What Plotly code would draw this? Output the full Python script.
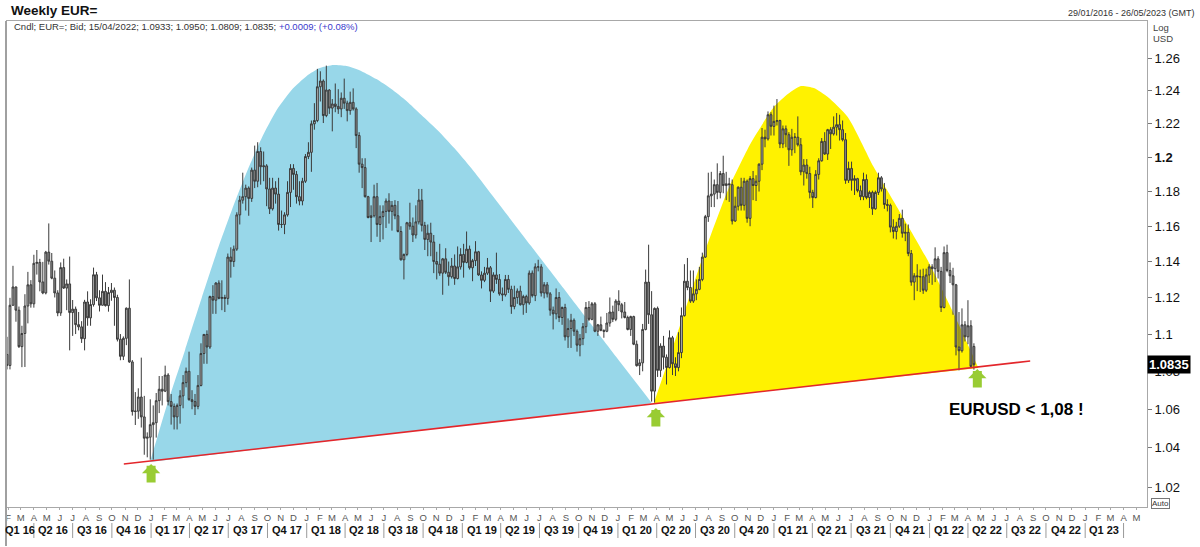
import math
import pandas as pd
import plotly.graph_objects as go

# ---------------- data ----------------
start_date = "2016-01-29"
range_end = "2023-05-26"

wk_open = [
    # 2016
    1.0890, 1.0831, 1.1157, 1.1258, 1.1130, 1.0932, 1.1003, 1.1153, 1.1270, 1.1165, 1.1390, 1.1395, 1.1286, 1.1225,
    1.1453, 1.1402, 1.1307, 1.1225, 1.1115, 1.1366, 1.1252, 1.1275, 1.1117, 1.1136, 1.1051, 1.1039, 1.0975, 1.1175,
    1.1088, 1.1161, 1.1326, 1.1198, 1.1157, 1.1234, 1.1155, 1.1227, 1.1240, 1.1200, 1.0972, 1.0880, 1.0977, 1.1141,
    1.0850, 1.0588, 1.0590, 1.0664, 1.0560, 1.0450, 1.0455,
    # 2017
    1.0520, 1.0530, 1.0645, 1.0705, 1.0695, 1.0780, 1.0640, 1.0615, 1.0560, 1.0620, 1.0670, 1.0740, 1.0800, 1.0650,
    1.0640, 1.0615, 1.0725, 1.0895, 1.0998, 1.0930, 1.1205, 1.1185, 1.1280, 1.1195, 1.1200, 1.1195, 1.1425, 1.1400,
    1.1470, 1.1665, 1.1750, 1.1770, 1.1820, 1.1760, 1.1925, 1.1860, 1.2035, 1.1945, 1.1950, 1.1815, 1.1700, 1.1820,
    1.1785, 1.1610, 1.1610, 1.1665, 1.1795, 1.1935, 1.1900, 1.1770, 1.1745, 1.1860,
    # 2018
    1.2005, 1.2030, 1.2200, 1.2220, 1.2425, 1.2460, 1.2250, 1.2405, 1.2295, 1.2320, 1.2305, 1.2290, 1.2355, 1.2325,
    1.2280, 1.2330, 1.2290, 1.2130, 1.1960, 1.1940, 1.1770, 1.1650, 1.1660, 1.1770, 1.1610, 1.1655, 1.1685, 1.1745,
    1.1685, 1.1720, 1.1660, 1.1570, 1.1410, 1.1440, 1.1620, 1.1600, 1.1550, 1.1625, 1.1750, 1.1605, 1.1525, 1.1560,
    1.1510, 1.1400, 1.1385, 1.1335, 1.1415, 1.1340, 1.1315, 1.1375, 1.1305, 1.1370,
    # 2019
    1.1440, 1.1395, 1.1470, 1.1365, 1.1405, 1.1455, 1.1325, 1.1295, 1.1335, 1.1365, 1.1235, 1.1325, 1.1300, 1.1220,
    1.1215, 1.1300, 1.1245, 1.1150, 1.1200, 1.1235, 1.1160, 1.1205, 1.1170, 1.1335, 1.1210, 1.1370, 1.1370, 1.1225,
    1.1270, 1.1220, 1.1130, 1.1110, 1.1200, 1.1090, 1.1145, 1.0985, 1.1030, 1.1075, 1.1015, 1.0940, 1.0975, 1.1040,
    1.1145, 1.1080, 1.1165, 1.1015, 1.1050, 1.1020, 1.1015, 1.1060, 1.1120, 1.1080,
    # 2020
    1.1180, 1.1160, 1.1120, 1.1090, 1.1025, 1.1095, 1.0945, 1.0830, 1.0845, 1.1025, 1.1285, 1.1105, 1.0695, 1.1140,
    1.0805, 1.0935, 1.0875, 1.0820, 1.0980, 1.0840, 1.0820, 1.0900, 1.1100, 1.1290, 1.1255, 1.1180, 1.1220, 1.1245,
    1.1300, 1.1425, 1.1655, 1.1775, 1.1785, 1.1840, 1.1795, 1.1905, 1.1835, 1.1845, 1.1840, 1.1630, 1.1715, 1.1825,
    1.1720, 1.1860, 1.1645, 1.1875, 1.1835, 1.1860, 1.1960, 1.2120, 1.2110, 1.2255,
    # 2021
    1.2185, 1.2215, 1.2220, 1.2080, 1.2170, 1.2135, 1.2045, 1.2120, 1.2120, 1.2075, 1.1915, 1.1955, 1.1905, 1.1795,
    1.1765, 1.1900, 1.1980, 1.2095, 1.2020, 1.2165, 1.2140, 1.2180, 1.2195, 1.2165, 1.2105, 1.1865, 1.1935, 1.1865,
    1.1875, 1.1805, 1.1770, 1.1870, 1.1765, 1.1795, 1.1700, 1.1795, 1.1880, 1.1815, 1.1725, 1.1720, 1.1595, 1.1570,
    1.1600, 1.1645, 1.1560, 1.1565, 1.1445, 1.1285, 1.1320, 1.1315, 1.1315, 1.1240, 1.1325,
    # 2022
    1.1370, 1.1360, 1.1415, 1.1345, 1.1145, 1.1450, 1.1350, 1.1320, 1.1270, 1.0930, 1.0910, 1.1050, 1.0985, 1.1045,
    1.0933,
]

wk_high = [
    # 2016
    1.0985, 1.1198, 1.1376, 1.1260, 1.1150, 1.1045, 1.1218, 1.1342, 1.1296, 1.1438, 1.1465, 1.1415, 1.1398, 1.1460,
    1.1616, 1.1448, 1.1350, 1.1240, 1.1395, 1.1416, 1.1300, 1.1428, 1.1186, 1.1150, 1.1120, 1.1070, 1.1187, 1.1234,
    1.1190, 1.1366, 1.1342, 1.1240, 1.1327, 1.1285, 1.1258, 1.1280, 1.1255, 1.1215, 1.1000, 1.0987, 1.1145, 1.1300,
    1.0860, 1.0690, 1.0710, 1.0873, 1.0670, 1.0480, 1.0652,
    # 2017
    1.0620, 1.0685, 1.0775, 1.0775, 1.0830, 1.0790, 1.0680, 1.0630, 1.0630, 1.0700, 1.0780, 1.0820, 1.0905, 1.0700,
    1.0680, 1.0780, 1.0950, 1.1000, 1.1020, 1.1210, 1.1268, 1.1285, 1.1295, 1.1295, 1.1215, 1.1445, 1.1480, 1.1490,
    1.1680, 1.1775, 1.1910, 1.1840, 1.1830, 1.1940, 1.2070, 1.2090, 1.2060, 1.2035, 1.1960, 1.1880, 1.1880, 1.1860,
    1.1880, 1.1690, 1.1680, 1.1860, 1.1960, 1.1960, 1.1920, 1.1860, 1.1880, 1.2020,
    # 2018
    1.2090, 1.2220, 1.2325, 1.2535, 1.2520, 1.2470, 1.2555, 1.2410, 1.2350, 1.2445, 1.2410, 1.2390, 1.2475, 1.2340,
    1.2395, 1.2415, 1.2300, 1.2150, 1.1995, 1.1995, 1.1775, 1.1720, 1.1840, 1.1850, 1.1720, 1.1720, 1.1760, 1.1790,
    1.1745, 1.1750, 1.1745, 1.1600, 1.1445, 1.1625, 1.1735, 1.1650, 1.1720, 1.1815, 1.1815, 1.1625, 1.1610, 1.1620,
    1.1550, 1.1455, 1.1500, 1.1420, 1.1475, 1.1400, 1.1420, 1.1440, 1.1485, 1.1475,
    # 2019
    1.1500, 1.1570, 1.1490, 1.1415, 1.1515, 1.1460, 1.1345, 1.1370, 1.1420, 1.1375, 1.1340, 1.1450, 1.1330, 1.1255,
    1.1325, 1.1325, 1.1265, 1.1265, 1.1250, 1.1265, 1.1215, 1.1215, 1.1350, 1.1350, 1.1390, 1.1410, 1.1385, 1.1285,
    1.1285, 1.1230, 1.1150, 1.1250, 1.1230, 1.1150, 1.1165, 1.1085, 1.1110, 1.1085, 1.1025, 1.1000, 1.1060, 1.1175,
    1.1180, 1.1175, 1.1175, 1.1055, 1.1095, 1.1025, 1.1115, 1.1200, 1.1155, 1.1190,
    # 2020
    1.1240, 1.1170, 1.1175, 1.1100, 1.1100, 1.1100, 1.0965, 1.0865, 1.1055, 1.1355, 1.1495, 1.1235, 1.1145, 1.1150,
    1.0950, 1.0990, 1.0890, 1.1020, 1.0990, 1.0875, 1.1010, 1.1145, 1.1385, 1.1420, 1.1350, 1.1350, 1.1300, 1.1370,
    1.1450, 1.1665, 1.1910, 1.1915, 1.1870, 1.1965, 1.1920, 1.2010, 1.1915, 1.1880, 1.1870, 1.1770, 1.1830, 1.1880,
    1.1880, 1.1870, 1.1890, 1.1920, 1.1895, 1.1965, 1.2175, 1.2165, 1.2275, 1.2270,
    # 2021
    1.2310, 1.2350, 1.2225, 1.2190, 1.2190, 1.2150, 1.2170, 1.2145, 1.2245, 1.2115, 1.1990, 1.1990, 1.1945, 1.1810,
    1.1925, 1.1995, 1.2115, 1.2150, 1.2170, 1.2180, 1.2245, 1.2265, 1.2255, 1.2220, 1.2145, 1.1975, 1.1975, 1.1895,
    1.1880, 1.1835, 1.1910, 1.1900, 1.1805, 1.1805, 1.1805, 1.1910, 1.1890, 1.1850, 1.1755, 1.1730, 1.1640, 1.1625,
    1.1670, 1.1695, 1.1615, 1.1610, 1.1465, 1.1335, 1.1385, 1.1355, 1.1360, 1.1360, 1.1385,
    # 2022
    1.1385, 1.1480, 1.1430, 1.1370, 1.1485, 1.1495, 1.1395, 1.1365, 1.1275, 1.1120, 1.1140, 1.1070, 1.1185, 1.1075,
    1.0950,
]

wk_low = [
    # 2016
    1.0810, 1.0810, 1.1155, 1.1067, 1.0925, 1.0822, 1.0823, 1.1058, 1.1144, 1.1144, 1.1327, 1.1234, 1.1218, 1.1217,
    1.1383, 1.1301, 1.1200, 1.1097, 1.1099, 1.1247, 1.1130, 1.0912, 1.0990, 1.1000, 1.1020, 1.0952, 1.0912, 1.1045,
    1.1045, 1.1150, 1.1180, 1.1123, 1.1156, 1.1150, 1.1122, 1.1182, 1.1045, 1.0960, 1.0859, 1.0860, 1.0940, 1.0845,
    1.0567, 1.0518, 1.0550, 1.0505, 1.0365, 1.0352, 1.0340,
    # 2017
    1.0340, 1.0453, 1.0580, 1.0620, 1.0690, 1.0620, 1.0520, 1.0495, 1.0495, 1.0525, 1.0605, 1.0715, 1.0645, 1.0600,
    1.0570, 1.0600, 1.0720, 1.0840, 1.0840, 1.0920, 1.1110, 1.1110, 1.1190, 1.1130, 1.1120, 1.1160, 1.1310, 1.1370,
    1.1460, 1.1610, 1.1730, 1.1690, 1.1660, 1.1740, 1.1820, 1.1825, 1.1840, 1.1860, 1.1715, 1.1670, 1.1690, 1.1730,
    1.1575, 1.1590, 1.1555, 1.1655, 1.1710, 1.1810, 1.1730, 1.1720, 1.1720, 1.1850,
    # 2018
    1.1990, 1.1915, 1.2165, 1.2210, 1.2335, 1.2205, 1.2240, 1.2260, 1.2155, 1.2270, 1.2260, 1.2240, 1.2290, 1.2215,
    1.2255, 1.2280, 1.2055, 1.1910, 1.1820, 1.1765, 1.1645, 1.1510, 1.1650, 1.1540, 1.1510, 1.1525, 1.1590, 1.1615,
    1.1575, 1.1640, 1.1565, 1.1405, 1.1300, 1.1430, 1.1580, 1.1510, 1.1530, 1.1610, 1.1570, 1.1465, 1.1430, 1.1430,
    1.1335, 1.1300, 1.1320, 1.1215, 1.1330, 1.1265, 1.1305, 1.1270, 1.1300, 1.1355,
    # 2019
    1.1310, 1.1390, 1.1355, 1.1290, 1.1375, 1.1320, 1.1250, 1.1285, 1.1325, 1.1175, 1.1225, 1.1275, 1.1210, 1.1180,
    1.1205, 1.1225, 1.1110, 1.1135, 1.1165, 1.1155, 1.1105, 1.1115, 1.1160, 1.1200, 1.1180, 1.1345, 1.1205, 1.1195,
    1.1200, 1.1100, 1.1025, 1.1080, 1.1065, 1.1050, 1.0965, 1.0925, 1.0925, 1.0990, 1.0905, 1.0880, 1.0940, 1.1005,
    1.1070, 1.1075, 1.1010, 1.0990, 1.1015, 1.0980, 1.1010, 1.1040, 1.1065, 1.1070,
    # 2020
    1.1125, 1.1085, 1.1085, 1.1020, 1.0990, 1.0940, 1.0825, 1.0780, 1.0800, 1.1020, 1.1055, 1.0640, 1.0635, 1.0770,
    1.0770, 1.0810, 1.0730, 1.0815, 1.0780, 1.0775, 1.0800, 1.0870, 1.1095, 1.1240, 1.1170, 1.1170, 1.1185, 1.1240,
    1.1290, 1.1420, 1.1625, 1.1710, 1.1710, 1.1755, 1.1760, 1.1790, 1.1750, 1.1740, 1.1610, 1.1625, 1.1690, 1.1690,
    1.1690, 1.1620, 1.1600, 1.1750, 1.1745, 1.1800, 1.1925, 1.2060, 1.2100, 1.2130,
    # 2021
    1.2130, 1.2190, 1.2055, 1.2055, 1.2060, 1.1950, 1.2010, 1.2025, 1.2065, 1.1895, 1.1835, 1.1875, 1.1760, 1.1705,
    1.1760, 1.1870, 1.1975, 1.2015, 1.1985, 1.2050, 1.2130, 1.2130, 1.2100, 1.2095, 1.1845, 1.1850, 1.1805, 1.1780,
    1.1795, 1.1750, 1.1750, 1.1755, 1.1705, 1.1665, 1.1695, 1.1780, 1.1800, 1.1700, 1.1685, 1.1565, 1.1530, 1.1525,
    1.1590, 1.1535, 1.1515, 1.1430, 1.1265, 1.1185, 1.1235, 1.1230, 1.1220, 1.1230, 1.1280,
    # 2022
    1.1270, 1.1285, 1.1305, 1.1120, 1.1140, 1.1340, 1.1280, 1.1105, 1.0885, 1.0805, 1.0900, 1.0960, 1.0945, 1.0820,
    1.0809,
]

wk_close = [
    # 2016
    1.0831, 1.1157, 1.1258, 1.1130, 1.0932, 1.1003, 1.1153, 1.1270, 1.1165, 1.1390, 1.1395, 1.1286, 1.1225, 1.1453,
    1.1402, 1.1307, 1.1225, 1.1115, 1.1366, 1.1252, 1.1275, 1.1117, 1.1136, 1.1051, 1.1039, 1.0975, 1.1175, 1.1088,
    1.1161, 1.1326, 1.1198, 1.1157, 1.1234, 1.1155, 1.1227, 1.1240, 1.1200, 1.0972, 1.0880, 1.0977, 1.1141, 1.0850,
    1.0588, 1.0590, 1.0664, 1.0560, 1.0450, 1.0455, 1.0520,
    # 2017
    1.0530, 1.0645, 1.0705, 1.0695, 1.0780, 1.0640, 1.0615, 1.0560, 1.0620, 1.0670, 1.0740, 1.0800, 1.0650, 1.0640,
    1.0615, 1.0725, 1.0895, 1.0998, 1.0930, 1.1205, 1.1185, 1.1280, 1.1195, 1.1200, 1.1195, 1.1425, 1.1400, 1.1470,
    1.1665, 1.1750, 1.1770, 1.1820, 1.1760, 1.1925, 1.1860, 1.2035, 1.1945, 1.1950, 1.1815, 1.1700, 1.1820, 1.1785,
    1.1610, 1.1610, 1.1665, 1.1795, 1.1935, 1.1900, 1.1770, 1.1745, 1.1860, 1.2005,
    # 2018
    1.2030, 1.2200, 1.2220, 1.2425, 1.2460, 1.2250, 1.2405, 1.2295, 1.2320, 1.2305, 1.2290, 1.2355, 1.2325, 1.2280,
    1.2330, 1.2290, 1.2130, 1.1960, 1.1940, 1.1770, 1.1650, 1.1660, 1.1770, 1.1610, 1.1655, 1.1685, 1.1745, 1.1685,
    1.1720, 1.1660, 1.1570, 1.1410, 1.1440, 1.1620, 1.1600, 1.1550, 1.1625, 1.1750, 1.1605, 1.1525, 1.1560, 1.1510,
    1.1400, 1.1385, 1.1335, 1.1415, 1.1340, 1.1315, 1.1375, 1.1305, 1.1370, 1.1440,
    # 2019
    1.1395, 1.1470, 1.1365, 1.1405, 1.1455, 1.1325, 1.1295, 1.1335, 1.1365, 1.1235, 1.1325, 1.1300, 1.1220, 1.1215,
    1.1300, 1.1245, 1.1150, 1.1200, 1.1235, 1.1160, 1.1205, 1.1170, 1.1335, 1.1210, 1.1370, 1.1370, 1.1225, 1.1270,
    1.1220, 1.1130, 1.1110, 1.1200, 1.1090, 1.1145, 1.0985, 1.1030, 1.1075, 1.1015, 1.0940, 1.0975, 1.1040, 1.1145,
    1.1080, 1.1165, 1.1015, 1.1050, 1.1020, 1.1015, 1.1060, 1.1120, 1.1080, 1.1180,
    # 2020
    1.1160, 1.1120, 1.1090, 1.1025, 1.1095, 1.0945, 1.0830, 1.0845, 1.1025, 1.1285, 1.1105, 1.0695, 1.1140, 1.0805,
    1.0935, 1.0875, 1.0820, 1.0980, 1.0840, 1.0820, 1.0900, 1.1100, 1.1290, 1.1255, 1.1180, 1.1220, 1.1245, 1.1300,
    1.1425, 1.1655, 1.1775, 1.1785, 1.1840, 1.1795, 1.1905, 1.1835, 1.1845, 1.1840, 1.1630, 1.1715, 1.1825, 1.1720,
    1.1860, 1.1645, 1.1875, 1.1835, 1.1860, 1.1960, 1.2120, 1.2110, 1.2255, 1.2185,
    # 2021
    1.2215, 1.2220, 1.2080, 1.2170, 1.2135, 1.2045, 1.2120, 1.2120, 1.2075, 1.1915, 1.1955, 1.1905, 1.1795, 1.1765,
    1.1900, 1.1980, 1.2095, 1.2020, 1.2165, 1.2140, 1.2180, 1.2195, 1.2165, 1.2105, 1.1865, 1.1935, 1.1865, 1.1875,
    1.1805, 1.1770, 1.1870, 1.1765, 1.1795, 1.1700, 1.1795, 1.1880, 1.1815, 1.1725, 1.1720, 1.1595, 1.1570, 1.1600,
    1.1645, 1.1560, 1.1565, 1.1445, 1.1285, 1.1320, 1.1315, 1.1315, 1.1240, 1.1325, 1.1370,
    # 2022
    1.1360, 1.1415, 1.1345, 1.1145, 1.1450, 1.1350, 1.1320, 1.1270, 1.0930, 1.0910, 1.1050, 1.0985, 1.1045, 1.0826,
    1.0835,
]

assert len(wk_open) == len(wk_high) == len(wk_low) == len(wk_close)

# right axis ticks
tick_vals = [1.02, 1.04, 1.06, 1.08, 1.10, 1.12, 1.14, 1.16, 1.18, 1.20, 1.22, 1.24, 1.26]
tick_text = ["1.02", "1.04", "1.06", "1.08", "1.1", "1.12", "1.14", "1.16", "1.18", "<b>1.2</b>", "1.22", "1.24", "1.26"]
y_bottom, y_top = 1.01017, 1.2834

month_initials = ["J", "F", "M", "A", "M", "J", "J", "A", "S", "O", "N", "D"]
quarter_labels = ["Q1 16", "Q2 16", "Q3 16", "Q4 16", "Q1 17", "Q2 17", "Q3 17", "Q4 17",
                  "Q1 18", "Q2 18", "Q3 18", "Q4 18", "Q1 19", "Q2 19", "Q3 19", "Q4 19",
                  "Q1 20", "Q2 20", "Q3 20", "Q4 20", "Q1 21", "Q2 21", "Q3 21", "Q4 21",
                  "Q1 22", "Q2 22", "Q3 22", "Q4 22", "Q1 23"]

# hand-drawn overlays (decimal years, prices)
blue_years = [2016.993, 2017.102, 2017.218, 2017.327, 2017.423, 2017.519, 2017.615, 2017.711, 2017.807,
              2017.903, 2018.000, 2018.083, 2018.160, 2018.256, 2018.352, 2018.448, 2018.544, 2018.641,
              2018.737, 2018.846, 2018.948, 2019.057, 2019.250, 2019.442, 2019.634, 2019.827, 2020.019,
              2020.218]
blue_prices = [1.0328, 1.0622, 1.0913, 1.1202, 1.1456, 1.1693, 1.1914, 1.2115, 1.2283,
               1.2405, 1.2491, 1.2540, 1.2558, 1.2552, 1.2521, 1.2472, 1.2411, 1.2338,
               1.2253, 1.2157, 1.2055, 1.1937, 1.1710, 1.1487, 1.1269, 1.1054, 1.0844,
               1.0632]
yellow_years = [2020.230, 2020.320, 2020.403, 2020.551, 2020.705, 2020.852, 2021.000, 2021.089, 2021.173,
                2021.256, 2021.346, 2021.474, 2021.641, 2021.814, 2021.987, 2022.153, 2022.314]
yellow_prices = [1.0632, 1.0849, 1.1060, 1.1442, 1.1808, 1.2085, 1.2301, 1.2380, 1.2429,
                 1.2417, 1.2362, 1.2241, 1.1943, 1.1675, 1.1408, 1.1115, 1.0818]
trend_dates = ["2016-10-29", "2022-08-25"]
trend_prices = [1.0318, 1.0855]
arrow_dates = ["2017-01-01", "2020-03-30", "2022-04-23"]
arrow_prices = [1.0318, 1.0606, 1.0812]
note_date = "2022-07-25"
note_price = 1.0601
last_price = 1.0835

title_text = "Weekly EUR="
period_text = "29/01/2016 - 26/05/2023 (GMT)"
info_text = "Cndl; EUR=; Bid; 15/04/2022; 1.0933; 1.0950; 1.0809; 1.0835; "
change_text = "+0.0009; (+0.08%)"
note_text = "EURUSD < 1,08 !"


def year_to_ts(v):
    yr = int(v)
    a = pd.Timestamp(yr, 1, 1)
    b = pd.Timestamp(yr + 1, 1, 1)
    return a + (v - yr) * (b - a)


weeks = pd.date_range(start_date, periods=len(wk_close), freq="7D")

# ---------------- figure ----------------
W, H = 1200, 547
ML, MR, MT, MB = 5, 53, 21, 40
PW, PH = W - ML - MR, H - MT - MB


def px(xp):
    return (xp - ML) / PW


def py(yp):
    return (H - MB - yp) / PH


FONT = "Arial, Liberation Sans, sans-serif"

fig = go.Figure()

# filled pattern shapes on the base subplot
fig.add_trace(go.Scatter(
    x=[year_to_ts(v) for v in blue_years], y=blue_prices, mode="lines", fill="toself",
    fillcolor="#98d7e9", line=dict(width=0, shape="spline", smoothing=0.6, color="#98d7e9"),
    hoverinfo="skip", showlegend=False, xaxis="x", yaxis="y"))
fig.add_trace(go.Scatter(
    x=[year_to_ts(v) for v in yellow_years], y=yellow_prices, mode="lines", fill="toself",
    fillcolor="#fff200", line=dict(width=0, shape="spline", smoothing=0.6, color="#fff200"),
    hoverinfo="skip", showlegend=False, xaxis="x", yaxis="y"))

# candles + trend line on an overlaid (identical) subplot so they sit above the fills
fig.add_trace(go.Candlestick(
    x=weeks, open=wk_open, high=wk_high, low=wk_low, close=wk_close,
    increasing=dict(line=dict(color="#3a3a3a", width=1), fillcolor="#b8b8b8"),
    decreasing=dict(line=dict(color="#3a3a3a", width=1), fillcolor="#8c8c8c"),
    whiskerwidth=0, showlegend=False, xaxis="x2", yaxis="y2"))

fig.add_trace(go.Scatter(
    x=trend_dates, y=trend_prices, mode="lines", line=dict(color="#e3262b", width=1.6),
    hoverinfo="skip", showlegend=False, xaxis="x2", yaxis="y2"))

month_starts = pd.date_range("2016-02-01", "2023-05-01", freq="MS")
month_text = [month_initials[m.month - 1] for m in month_starts]

yrange = [math.log10(y_bottom), math.log10(y_top)]

fig.update_layout(
    width=W, height=H, margin=dict(l=ML, r=MR, t=MT, b=MB),
    paper_bgcolor="white", plot_bgcolor="white", showlegend=False,
    font=dict(family=FONT, color="#111"), boxgap=0.12,
    xaxis=dict(
        type="date", range=[start_date, range_end], rangeslider=dict(visible=False),
        showgrid=False, zeroline=False, showline=True, mirror=True, linecolor="#a8a8a8", linewidth=1,
        tickmode="array", tickvals=month_starts, ticktext=month_text,
        ticks="outside", ticklen=2, tickcolor="#aaaaaa", tickfont=dict(size=9.5, color="#555555"),
    ),
    yaxis=dict(
        type="log", range=yrange, side="right",
        showgrid=False, zeroline=False, showline=True, mirror=True, linecolor="#a8a8a8", linewidth=1,
        tickmode="array", tickvals=tick_vals, ticktext=tick_text,
        ticks="outside", ticklen=4, tickcolor="#777777", tickfont=dict(size=13, color="#111111"),
    ),
    xaxis2=dict(type="date", range=[start_date, range_end], overlaying="x", visible=False,
                rangeslider=dict(visible=False), showgrid=False, zeroline=False),
    yaxis2=dict(type="log", range=yrange, overlaying="y", visible=False, showgrid=False, zeroline=False),
)

ann = []
shapes = []
q_starts = pd.date_range("2016-01-01", "2023-04-01", freq="QS")
rs = pd.Timestamp(start_date)
for i, lab in enumerate(quarter_labels):
    a = max(q_starts[i], rs)
    b = q_starts[i + 1]
    ann.append(dict(x=a + (b - a) / 2, y=py(530), xref="x", yref="paper", text=f"<b>{lab}</b>",
                    showarrow=False, font=dict(size=11, color="#111", family=FONT), yanchor="middle"))
    shapes.append(dict(type="line", xref="x", yref="paper", x0=b, x1=b, y0=py(523), y1=py(538),
                       line=dict(color="#9a9a9a", width=1)))

# header texts
ann.append(dict(x=px(7), y=py(11), xref="paper", yref="paper", text=f"<b>{title_text}</b>", showarrow=False,
                xanchor="left", yanchor="middle", font=dict(size=13.5, color="#111", family=FONT)))
ann.append(dict(x=px(1197), y=py(13), xref="paper", yref="paper", text=period_text, showarrow=False,
                xanchor="right", yanchor="middle", font=dict(size=9, color="#333", family=FONT)))
ann.append(dict(x=px(10), y=py(26), xref="paper", yref="paper",
                text=f'<span style="color:#333333">{info_text}</span><span style="color:#3a3acc">{change_text}</span>',
                showarrow=False, xanchor="left", yanchor="middle", font=dict(size=9.5, family=FONT)))
ann.append(dict(x=px(1151), y=py(27), xref="paper", yref="paper", text="Log", showarrow=False,
                xanchor="left", yanchor="middle", font=dict(size=9.5, color="#444", family=FONT)))
ann.append(dict(x=px(1151), y=py(38), xref="paper", yref="paper", text="USD", showarrow=False,
                xanchor="left", yanchor="middle", font=dict(size=9.5, color="#444", family=FONT)))
ann.append(dict(x=px(1151), y=py(503), xref="paper", yref="paper", text="Auto", showarrow=False,
                xanchor="left", yanchor="middle", font=dict(size=8, color="#333", family=FONT),
                bordercolor="#777", borderwidth=1, borderpad=0, bgcolor="white"))
# last price tag
ann.append(dict(x=1.0, y=math.log10(last_price), xref="paper", yref="y", text=f"<b>{last_price:.4f}</b>",
                showarrow=False, xanchor="left", yanchor="middle", bgcolor="#000000",
                font=dict(size=13, color="white", family=FONT), borderpad=1))
# green block arrows (tip at the touch point)
for d, p in zip(arrow_dates, arrow_prices):
    ann.append(dict(x=d, y=math.log10(p), xref="x", yref="y", text="", showarrow=True,
                    ax=0, ay=20, arrowhead=1, arrowsize=0.34, arrowwidth=9, arrowcolor="#99cc33",
                    standoff=0, startstandoff=0))
# note
ann.append(dict(x=note_date, y=math.log10(note_price), xref="x", yref="y", text=f"<b>{note_text}</b>",
                showarrow=False, xanchor="center", yanchor="middle", font=dict(size=17, color="#000", family=FONT)))

# left frame line extends to bottom of image
shapes.append(dict(type="line", xref="paper", yref="paper", x0=px(4), x1=px(4), y0=py(546), y1=py(21),
                   line=dict(color="#a0a0a0", width=2)))

fig.update_layout(annotations=ann, shapes=shapes)

fig.write_html("out.html", config={"displayModeBar": False},
               post_script="document.body.style.margin='0px';")
